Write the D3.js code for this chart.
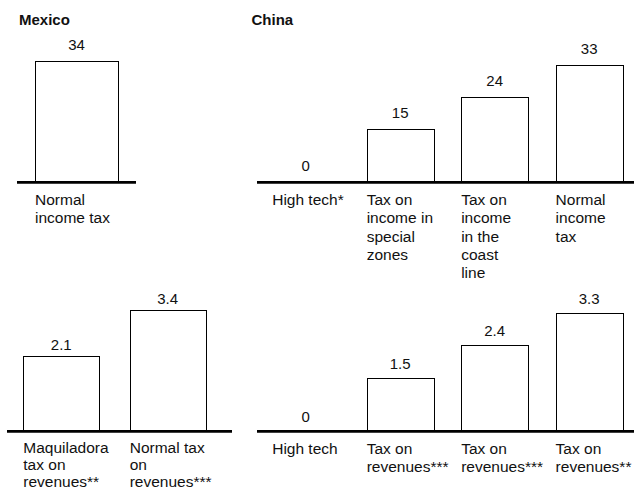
<!DOCTYPE html>
<html>
<head>
<meta charset="utf-8">
<script src="https://cdn.jsdelivr.net/npm/d3@7"></script>
<style>
  html, body { margin: 0; padding: 0; background: #fff; }
  svg { display: block; }
  text { font-family: "Liberation Sans", Arial, sans-serif; fill: #111; }
</style>
</head>
<body>
<svg id="chart" width="634" height="491"></svg>
<script>
// Tax rates on income (%) and on revenues (%), Mexico vs China
const mexicoIncomeCategories = ["Normal\nincome tax"];
const mexicoIncomeValues = [34];

const chinaIncomeCategories = ["High tech*", "Tax on\nincome in\nspecial\nzones", "Tax on\nincome\nin the\ncoast\nline", "Normal\nincome\ntax"];
const chinaIncomeValues = [0, 15, 24, 33];

const mexicoRevenueCategories = ["Maquiladora\ntax on\nrevenues**", "Normal tax\non\nrevenues***"];
const mexicoRevenueValues = [2.1, 3.4];

const chinaRevenueCategories = ["High tech", "Tax on\nrevenues***", "Tax on\nrevenues***", "Tax on\nrevenues**"];
const chinaRevenueValues = [0, 1.5, 2.4, 3.3];

const panelTitles = ["Mexico", "China"];

const svg = d3.select("#chart");

// Shared vertical scales per row
const yIncome = d3.scaleLinear().domain([0, 34]).range([182.3, 61]);
const yRevenue = d3.scaleLinear().domain([0, 3.4]).range([431.3, 309.7]);

const panels = [
  { cats: mexicoIncomeCategories, vals: mexicoIncomeValues, y: yIncome,
    bars: [35, 118], pad: 0, axis: [17, 136], gap: 11, labelY: 205, lineH: 18.3, fmt: d3.format("d") },
  { cats: chinaIncomeCategories, vals: chinaIncomeValues, y: yIncome,
    bars: [272.2, 622.7], pad: 0.29, axis: [257, 640], gap: 11, labelY: 205, lineH: 18.3, fmt: d3.format("d") },
  { cats: mexicoRevenueCategories, vals: mexicoRevenueValues, y: yRevenue,
    bars: [23.3, 205.7], pad: 0.286, axis: [7, 232], gap: 6, labelY: 453, lineH: 17, fmt: d3.format(".1f") },
  { cats: chinaRevenueCategories, vals: chinaRevenueValues, y: yRevenue,
    bars: [272.2, 622.7], pad: 0.29, axis: [257, 640], gap: 9, labelY: 453.5, lineH: 18.3, fmt: v => v === 0 ? "0" : d3.format(".1f")(v) }
];

panels.forEach(p => {
  const x = d3.scaleBand().domain(p.cats.map((c, i) => i)).range(p.bars)
    .paddingInner(p.pad).paddingOuter(0);
  const g = svg.append("g");
  const base = p.y(0);

  // bars
  g.selectAll("rect").data(p.vals.map((v, i) => ({ v, i })).filter(d => d.v > 0))
    .enter().append("rect")
    .attr("x", d => Math.round(x(d.i)) + 0.5)
    .attr("y", d => Math.round(p.y(d.v)) + 0.5)
    .attr("width", Math.round(x.bandwidth()))
    .attr("height", d => base - Math.round(p.y(d.v)) - 0.5)
    .attr("fill", "#fff")
    .attr("stroke", "#000")
    .attr("stroke-width", 1);

  // baseline
  g.append("line")
    .attr("x1", p.axis[0]).attr("x2", p.axis[1])
    .attr("y1", base).attr("y2", base)
    .attr("stroke", "#000").attr("stroke-width", 2.8);

  // value labels
  g.selectAll("text.val").data(p.vals).enter().append("text")
    .attr("class", "val")
    .attr("x", (d, i) => x(i) + x.bandwidth() / 2)
    .attr("y", d => p.y(d) - p.gap)
    .attr("text-anchor", "middle")
    .style("font-size", "15px")
    .text(d => p.fmt(d));

  // category labels, wrapped on explicit breaks
  const lab = g.selectAll("text.cat").data(p.cats).enter().append("text")
    .attr("class", "cat")
    .attr("x", (d, i) => x(i))
    .attr("y", p.labelY)
    .style("font-size", "15.5px");
  lab.each(function(d, i) {
    const t = d3.select(this);
    d.split("\n").forEach((line, k) => {
      t.append("tspan").attr("x", x(i)).attr("dy", k === 0 ? 0 : p.lineH).text(line);
    });
  });
});

// panel titles
svg.append("text").attr("x", 19).attr("y", 25)
  .style("font-size", "15px").style("font-weight", "bold").text(panelTitles[0]);
svg.append("text").attr("x", 251.5).attr("y", 25)
  .style("font-size", "15px").style("font-weight", "bold").text(panelTitles[1]);
</script>
</body>
</html>
